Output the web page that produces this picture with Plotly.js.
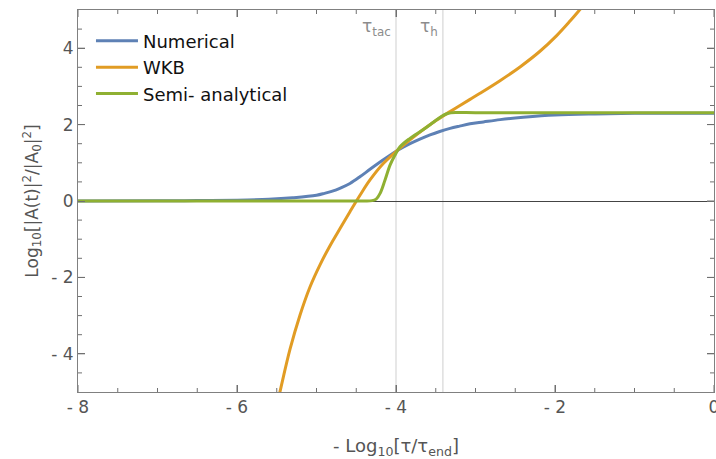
<!DOCTYPE html>
<html>
<head>
<meta charset="utf-8">
<script src="https://cdn.plot.ly/plotly-3.0.1.min.js"></script>
<style>html,body{margin:0;padding:0;background:#fff;}#chart{width:716px;height:459px;}</style>
</head>
<body>
<div id="chart"></div>
<script>
// Numerical solution
const numX = [-8, -7, -6.5, -6, -5.6, -5.3, -5.0, -4.9, -4.8, -4.7, -4.579, -4.45, -4.327, -4.2, -4.075, -3.95, -3.824, -3.7, -3.572, -3.45, -3.32, -3.2, -3.069, -2.9, -2.69, -2.4, -2.0, -1.5, -1, -0.5, 0];
const numY = [0, 0.004, 0.01, 0.022, 0.045, 0.085, 0.15, 0.2, 0.26, 0.34, 0.46, 0.64, 0.83, 1.02, 1.2, 1.36, 1.5, 1.62, 1.73, 1.82, 1.9, 1.96, 2.02, 2.07, 2.13, 2.19, 2.25, 2.28, 2.295, 2.3, 2.3];
// WKB approximation
const wkbX = [-5.58, -5.459, -5.333, -5.208, -5.082, -4.956, -4.83, -4.704, -4.579, -4.453, -4.327, -4.16, -3.991, -3.824, -3.656, -3.488, -3.32, -3.195, -3.069, -2.943, -2.692, -2.44, -2.189, -1.979, -1.811, -1.707, -1.6];
const wkbY = [-6.1, -4.99, -3.88, -2.99, -2.25, -1.67, -1.17, -0.72, -0.28, 0.15, 0.55, 0.98, 1.31, 1.6, 1.87, 2.12, 2.34, 2.5, 2.66, 2.82, 3.15, 3.51, 3.92, 4.33, 4.71, 4.96, 5.23];
// Semi-analytical
const semiX = [-8, -6, -5, -4.4, -4.3, -4.25, -4.2, -4.138, -4.075, -4.013, -3.95, -3.824, -3.656, -3.53, -3.425, -3.35, -3.25, -3.0, -2.0, 0];
const semiY = [0, 0, 0, 0, 0.01, 0.05, 0.2, 0.55, 0.94, 1.2, 1.42, 1.64, 1.87, 2.06, 2.22, 2.29, 2.315, 2.31, 2.31, 2.31];
// Marker times
const markX = [-4.0, -3.41];
const markLabels = ['τ<sub>tac</sub>', 'τ<sub>h</sub>'];
// Tick values and labels
const xTickVals = [-8, -6, -4, -2, 0];
const xTickText = ['- 8', '- 6', '- 4', '- 2', '0'];
const yTickVals = [-4, -2, 0, 2, 4];
const yTickText = ['- 4', '- 2', '0', '2', '4'];
const xMinorVals = [-7.5, -7, -6.5, -5.5, -5, -4.5, -3.5, -3, -2.5, -1.5, -1, -0.5];
const yMinorVals = [-4.5, -3.5, -3, -2.5, -1.5, -1, -0.5, 0.5, 1, 1.5, 2.5, 3, 3.5, 4.5];

const W = 716, H = 459;
const margin = {l: 78, r: 2, t: 10, b: 67};
const plotW = W - margin.l - margin.r;
const plotH = H - margin.t - margin.b;

const font = 'DejaVu Sans, sans-serif';
const frameColor = '#808080';
const tickColor = '#707070';

const traces = [
  {x: numX, y: numY, name: 'Numerical', mode: 'lines', line: {color: '#5E81B5', width: 3, shape: 'spline', smoothing: 1}},
  {x: wkbX, y: wkbY, name: 'WKB', mode: 'lines', line: {color: '#E19C24', width: 3, shape: 'spline', smoothing: 1}},
  {x: semiX, y: semiY, name: 'Semi- analytical', mode: 'lines', line: {color: '#8FB032', width: 3, shape: 'spline', smoothing: 1}}
];

const shapes = markX.map(v => ({type: 'line', xref: 'x', yref: 'paper', x0: v, x1: v, y0: 0, y1: 1, line: {color: '#cfcfcf', width: 1}, layer: 'below'}));

// Inside tick marks on all four sides (x positions through the x scale, y positions through the y scale)
function xTick(v, lenPx) {
  const f = lenPx / plotH;
  return [
    {type: 'line', xref: 'x', yref: 'paper', x0: v, x1: v, y0: 0, y1: f, line: {color: tickColor, width: 1}, layer: 'below'},
    {type: 'line', xref: 'x', yref: 'paper', x0: v, x1: v, y0: 1, y1: 1 - f, line: {color: tickColor, width: 1}, layer: 'below'}
  ];
}
function yTick(v, lenPx) {
  const f = lenPx / plotW;
  return [
    {type: 'line', yref: 'y', xref: 'paper', y0: v, y1: v, x0: 0, x1: f, line: {color: tickColor, width: 1}, layer: 'below'},
    {type: 'line', yref: 'y', xref: 'paper', y0: v, y1: v, x0: 1, x1: 1 - f, line: {color: tickColor, width: 1}, layer: 'below'}
  ];
}
xTickVals.forEach(v => shapes.push(...xTick(v, 7)));
xMinorVals.forEach(v => shapes.push(...xTick(v, 4)));
yTickVals.forEach(v => shapes.push(...yTick(v, 7)));
yMinorVals.forEach(v => shapes.push(...yTick(v, 4)));

const annotations = markX.map((v, i) => ({x: v, xref: 'x', y: 0.953, yref: 'paper', text: markLabels[i], showarrow: false, xanchor: 'right', yanchor: 'middle', xshift: -3, font: {family: font, size: 17, color: '#8c8c8c'}}));

function axis(extra) {
  return Object.assign({
    showgrid: false, showline: true, linecolor: frameColor, linewidth: 1, mirror: 'ticks',
    ticks: 'inside', ticklen: 7, tickwidth: 1, tickcolor: tickColor, tickmode: 'array',
    ticklabeloverflow: 'allow',
    tickfont: {family: font, size: 17, color: '#555'}
  }, extra);
}

const layout = {
  width: W, height: H,
  margin: margin,
  paper_bgcolor: '#fff', plot_bgcolor: '#fff',
  showlegend: true,
  legend: {x: 0.0204, y: 0.967, xanchor: 'left', yanchor: 'top', bgcolor: 'rgba(0,0,0,0)', itemwidth: 42, font: {family: font, size: 18, color: '#111'}},
  xaxis: axis({range: [-8, 0], zeroline: false, tickvals: xTickVals, ticktext: xTickText,
    title: {text: '- Log<sub>10</sub>[τ/τ<sub>end</sub>]', font: {family: font, size: 18, color: '#555'}, standoff: 25}}),
  yaxis: axis({range: [-5, 5], zeroline: true, zerolinecolor: '#444', zerolinewidth: 1, tickvals: yTickVals, ticktext: yTickText,
    title: {text: 'Log<sub>10</sub>[|A(t)|<sup>2</sup>/|A<sub>0</sub>|<sup>2</sup>]', font: {family: font, size: 17, color: '#555'}, standoff: 8}}),
  shapes: shapes,
  annotations: annotations
};

Plotly.newPlot('chart', traces, layout, {displayModeBar: false, staticPlot: true});
</script>
</body>
</html>
